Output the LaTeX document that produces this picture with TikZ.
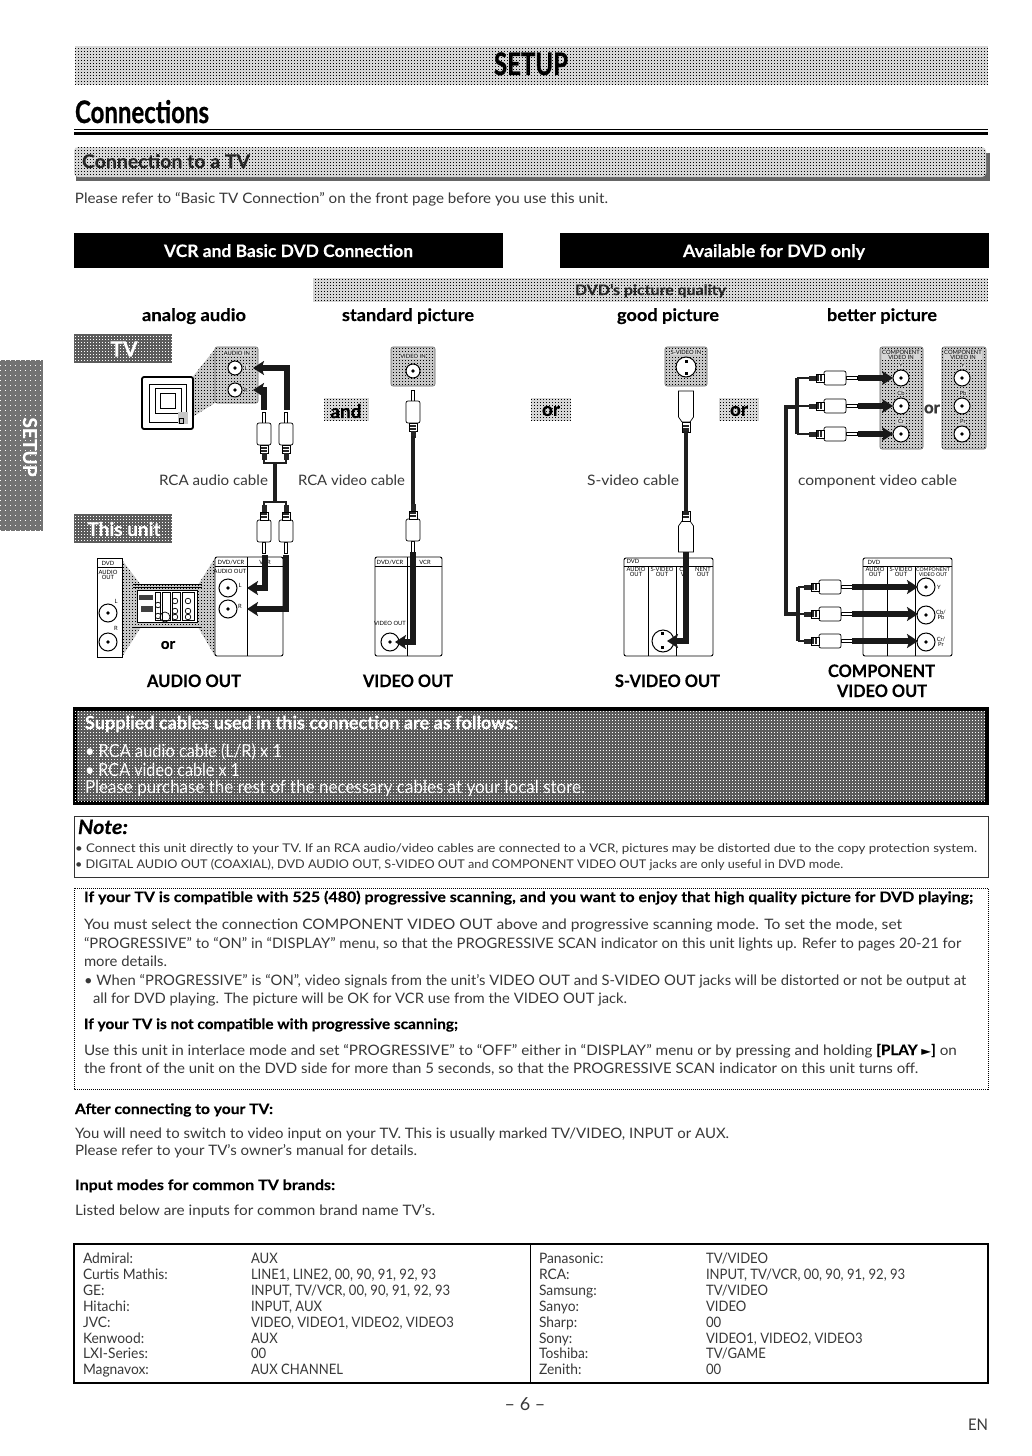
\documentclass[tikz,border=0pt]{standalone}
\usepackage{graphicx}
\usepackage{fontspec}
\setmainfont{Lato}[BoldFeatures={FakeBold=0.25},BoldItalicFeatures={FakeBold=0.25}]
\newfontfamily\hvyf{Lato}[BoldFeatures={FakeBold=0.9}]
\newfontfamily\djv{DejaVu Sans}
\usetikzlibrary{arrows.meta,patterns}
\pgfdeclarepatternformonly{dith}{\pgfqpoint{0pt}{0pt}}{\pgfqpoint{0.5pt}{0.5pt}}{\pgfqpoint{1.5pt}{1.5pt}}{%
  \pgfpathrectangle{\pgfqpoint{0pt}{0pt}}{\pgfqpoint{0.5pt}{0.5pt}}\pgfusepath{fill}}
\pgfdeclarepatternformonly{dithwide}{\pgfqpoint{0pt}{0pt}}{\pgfqpoint{0.5pt}{0.5pt}}{\pgfqpoint{2.5pt}{2.5pt}}{%
  \pgfpathrectangle{\pgfqpoint{0pt}{0pt}}{\pgfqpoint{0.5pt}{0.5pt}}\pgfusepath{fill}}
\definecolor{bandgray}{gray}{0.84}
\definecolor{darkband}{gray}{0.36}
\definecolor{sidegray}{gray}{0.45}
\definecolor{panelgray}{gray}{0.78}
\definecolor{inkc}{gray}{0.22}
\newcounter{tn}
\newcommand\bodyf{\fontsize{7.2}{8}\selectfont\color{inkc}}
\newcommand\smallf{\fontsize{6}{7}\selectfont\color{inkc}}
\newcommand\boldf{\fontsize{7.2}{8}\selectfont\bfseries}
\newcommand\headf{\fontsize{8.6}{9}\selectfont\bfseries}
\newcommand\tinyf{\fontsize{2.9}{3}\selectfont}
% fitted text: x, baseline, x end, font, text
\newcommand\Tf[5]{\stepcounter{tn}\pgfmathsetlengthmacro{\twd}{(#3-#1)*0.5}%
  \node[tx] (t\thetn) at (#1,#2) {\resizebox{\twd}{\height}{#4#5}};}
% scaled text: x, baseline, x scale, text
\newcommand\Tn[4]{\stepcounter{tn}\node[tx] (t\thetn) at (#1,#2) {\scalebox{#3}[1]{\bodyf #4}};}
% centred label
\newcommand\Tc[4]{\stepcounter{tn}\node[tc,font=#3] (t\thetn) at (#1,#2) {#4};}
% centred label on a grey panel, with a light halo
\newcommand\Tg[3]{\stepcounter{tn}\node[tc,font=\tinyf,fill=bandgray,inner sep=0.3pt] (t\thetn) at (#1,#2) {#3};}
% jack: name, x, y, radius
\newcommand\jack[4]{\node[jackn,minimum size=#4pt] (#1) at (#2,#3) {};\fill (#1.center) circle (0.9pt);}
\tikzset{
  x=0.5pt,y=-0.5pt,
  tx/.style={anchor=base west,inner sep=0pt,outer sep=0pt},
  tc/.style={anchor=center,inner sep=0pt,outer sep=0pt,align=center},
  jackn/.style={circle,draw=black,line width=0.5pt,fill=white,inner sep=0pt},
  cable/.style={draw=black!88,line width=2pt},
  thincable/.style={draw=black!88,line width=1.3pt},
  acable/.style={draw=black!90,line width=2.6pt,-{Stealth[length=5.5pt,width=7pt,inset=1.2pt]}},
  bandbox/.style={fill=bandgray,draw=none,postaction={pattern=dith,pattern color=black}},
  darkbox/.style={fill=darkband,draw=none,postaction={pattern=dith,pattern color=white}},
  sidebox/.style={fill=sidegray,draw=none,postaction={pattern=dithwide,pattern color=white}},
  panel/.style={draw=black,line width=0.45pt,fill=white},
  gpanel/.style={draw=black!60,line width=0.3pt,fill=panelgray,rounded corners=1pt,postaction={pattern=dith,pattern color=black}},
  wedge/.style={fill=panelgray,draw=none,postaction={pattern=dith,pattern color=black}},
  plugline/.style={draw=black,line width=0.35pt},
  rcaplug/.pic={
    \draw[plugline,fill=white] (-1.5,0) rectangle (1.5,11);
    \draw[plugline,fill=white,rounded corners=1pt] (-7,11) rectangle (7,33);
    \draw[plugline,fill=white] (-4,33) rectangle (4,41);
    \fill[black!85] (-3,35) rectangle (3,37);
    \fill[black!85] (-3,38) rectangle (3,40);
    \fill[black!85] (-2.5,41) rectangle (2.5,48);
  },
  svplug/.pic={
    \draw[plugline,fill=white] (-7.5,0) -- (7.5,0) -- (7.5,26) -- (4,31) -- (-4,31) -- (-7.5,26) -- cycle;
    \draw[plugline,fill=white] (-4,31) rectangle (4,41);
    \fill[black!85] (-3,34) rectangle (3,36);
    \fill[black!85] (-3,37) rectangle (3,41);
  },
}
\begin{document}
\begin{tikzpicture}
\useasboundingbox (0,0) rectangle (1032,1456);
\fill[white] (0,0) rectangle (1032,1456);

% ---------- headings
\path[bandbox] (75,46) rectangle (988,85);
\Tf{494}{75}{568}{\fontsize{15.5}{16}\selectfont\hvyf\bfseries}{SETUP}
\Tf{75}{123}{209}{\fontsize{15.5}{16}\selectfont\hvyf\bfseries}{Connections}
\fill[black] (74,128.5) rectangle (988,130);
\fill[black] (74,132) rectangle (988,135);

\fill[black!60] (76,172) rectangle (990,181);
\fill[black!60] (986,153) rectangle (990,181);
\path[bandbox,rounded corners=2pt] (74,147) rectangle (986,177);
\Tf{82}{168}{250}{\fontsize{9.4}{10}\selectfont\bfseries\color{black!85}}{Connection to a TV}
\Tf{75}{203}{608}{\bodyf}{Please refer to “Basic TV Connection” on the front page before you use this unit.}

\fill[black] (74,233) rectangle (503,268);
\fill[black] (560,233) rectangle (989,268);
\Tf{164}{257}{413}{\headf\color{white}}{VCR and Basic DVD Connection}
\Tf{683}{257}{865}{\headf\color{white}}{Available for DVD only}

\path[bandbox] (313,278) rectangle (988,302);
\Tf{575}{295}{726}{\boldf\color{black!85}}{DVD’s picture quality}
\Tf{142}{321}{246}{\headf}{analog audio}
\Tf{342}{321}{474}{\headf}{standard picture}
\Tf{617}{321}{719}{\headf}{good picture}
\Tf{827}{321}{937}{\headf}{better picture}

% ---------- side tab
\path[sidebox] (0,360) rectangle (43,531);
\node[tc,rotate=-90,text=white,font=\fontsize{9.6}{10}\selectfont\bfseries] (sidetab) at (30,447) {SETUP};

% ---------- label boxes
\path[darkbox] (74,334) rectangle (172,363);
\Tc{124}{349}{\fontsize{10.5}{11}\selectfont\bfseries\color{white}}{TV}
\path[darkbox] (74,514) rectangle (172,543);
\Tc{124}{529}{\fontsize{9.5}{10}\selectfont\bfseries\color{white}}{This unit}
\path[bandbox] (324,398) rectangle (369,421);
\Tc{346}{411}{\fontsize{9.5}{10}\selectfont\bfseries}{and}
\path[bandbox] (531,398) rectangle (571,421);
\Tc{551}{411}{\fontsize{9.5}{10}\selectfont\bfseries}{or}
\path[bandbox] (719,398) rectangle (759,421);
\Tc{739}{411}{\fontsize{9.5}{10}\selectfont\bfseries}{or}

% ---------- TV audio
\path[wedge] (215,349) -- (191,379) -- (191,425) -- (181,424) -- (215,403) -- cycle;
\draw[line width=0.9pt,draw=black,fill=white,rounded corners=1pt] (142,377) rectangle (193,429);
\draw[line width=0.35pt] (149,384) rectangle (186,422);
\draw[line width=0.35pt] (160,393) rectangle (175,408);
\draw[line width=0.35pt] (155,388) rectangle (181,413);
\fill[panelgray] (178,412) rectangle (188,424);
\draw[line width=0.3pt] (179,418) rectangle (183,423);
\path[gpanel] (215,347) rectangle (258,403);
\Tg{237}{353}{AUDIO IN}
\jack{tvL}{235}{368}{7}
\jack{tvR}{235}{390}{7}
\Tg{246}{368}{L}
\Tg{246}{390}{R}
\coordinate (tvLtip) at (253,390);
\coordinate (tvRtip) at (253,368);
\coordinate (aplugL) at (264,410);
\coordinate (aplugR) at (287,410);
\draw[acable] (aplugL) |- (tvLtip);
\draw[acable] (aplugR) |- (tvRtip);
\pic at (264,412) {rcaplug};
\pic at (286,412) {rcaplug};
\coordinate (ajT) at (275,463);
\coordinate (ajB) at (275,502);
\draw[cable] (ajT) -- (ajB);
\coordinate (ajTl) at (264,460);\coordinate (ajTr) at (286,460);
\draw[thincable] (ajTl) |- (ajT) -| (ajTr);
\coordinate (ajBl) at (264,505);\coordinate (ajBr) at (286,505);
\draw[thincable] (ajBl) |- (ajB) -| (ajBr);
\pic[rotate=180] at (264,553) {rcaplug};
\pic[rotate=180] at (286,553) {rcaplug};

\Tf{159}{485}{268}{\bodyf}{RCA audio cable}
\Tf{298}{485}{405}{\bodyf}{RCA video cable}

% ---------- unit audio panel
\path[wedge] (122,560) -- (141,585) -- (141,627) -- (122,657) -- cycle;
\path[wedge] (215,558) -- (198,585) -- (198,627) -- (215,656) -- cycle;
\draw[panel] (97,558) rectangle (122,657);
\draw[line width=0.4pt] (97,567) -- (122,567);
\Tc{108}{563}{\tinyf}{DVD}
\Tc{108}{575}{\tinyf}{AUDIO\\[-0.6pt]OUT}
\jack{dvdL}{108}{613}{9}
\jack{dvdR}{108}{642}{9}
\Tc{116}{601}{\tinyf}{L}
\Tc{116}{628}{\tinyf}{R}
\path[wedge] (133,584) rectangle (202,627);
\draw[line width=0.5pt] (133,584) -- (202,584);
\draw[line width=0.5pt] (133,587) -- (202,587);
\draw[line width=0.5pt] (133,627) -- (202,627);
\draw[line width=0.4pt,fill=white] (137,590) rectangle (197,622);
\draw[line width=0.35pt] (155,592) rectangle (160,620);
\draw[line width=0.35pt] (162,592) rectangle (170,620);
\draw[line width=0.35pt] (172,592) rectangle (180,620);
\draw[line width=0.35pt] (182,592) rectangle (194,620);
\fill[black!75] (139,595) rectangle (153,600);
\fill[black!75] (141,606) rectangle (153,612);
\draw[line width=0.35pt] (165,617) circle (2.5pt);
\foreach \jx/\jy in {158/605,158/616,175/601,175/611,188/601,188/611,175/617,188/617}
  \draw[line width=0.35pt] (\jx,\jy) circle (1.4pt);
\Tc{168}{645}{\fontsize{7.6}{8}\selectfont\bfseries}{or}

\draw[panel,rounded corners=1pt] (215,557) rectangle (283,656);
\draw[line width=0.45pt] (215,566) -- (283,566);
\draw[line width=0.45pt] (247,557) -- (247,656);
\Tc{231}{562}{\tinyf}{DVD/VCR}
\Tc{265}{562}{\tinyf}{VCR}
\Tc{230}{571}{\tinyf}{AUDIO OUT}
\jack{unitL}{228}{588}{9}
\jack{unitR}{228}{609}{9}
\Tc{240}{585}{\tinyf}{L}
\Tc{240}{606}{\tinyf}{R}
\coordinate (uLs) at (265,555);\coordinate (uRs) at (286,555);
\coordinate (uLt) at (247,588);\coordinate (uRt) at (247,609);
\draw[acable] (uLs) |- (uLt);
\draw[acable] (uRs) |- (uRt);

% ---------- video
\path[gpanel] (391,347) rectangle (435,386);
\Tg{413}{356}{VIDEO IN}
\jack{vin}{413}{371}{7}
\pic at (413,390) {rcaplug};
\coordinate (vT) at (413,436);\coordinate (vB) at (413,506);
\draw[cable] (vT) -- (vB);
\pic[rotate=180] at (413,552) {rcaplug};
\draw[panel,rounded corners=1pt] (375,557) rectangle (442,656);
\draw[line width=0.45pt] (375,566) -- (442,566);
\draw[line width=0.45pt] (407,557) -- (407,656);
\Tc{390}{562}{\tinyf}{DVD/VCR}
\Tc{425}{562}{\tinyf}{VCR}
\Tc{390}{623}{\tinyf}{VIDEO OUT}
\jack{vout}{390}{642}{9}
\coordinate (vS) at (413,552);\coordinate (vTip) at (395,642);
\draw[acable] (vS) |- (vTip);

% ---------- S-video
\path[gpanel] (665,347) rectangle (707,386);
\Tg{686}{352}{S-VIDEO IN}
\node[jackn,minimum size=10pt] (svin) at (686,367) {};
\fill (684.5,359.5) rectangle ++(3,3);\fill (684.5,372) rectangle ++(3,3);
\pic at (686,391) {svplug};
\coordinate (sT) at (686,431);\coordinate (sB) at (686,512);
\draw[cable] (sT) -- (sB);
\pic[rotate=180] at (686,552) {svplug};
\draw[panel,rounded corners=1pt] (624,558) rectangle (713,656);
\draw[line width=0.45pt] (624,566) -- (713,566);
\draw[line width=0.45pt] (648,566) -- (648,656);
\draw[line width=0.45pt] (676,566) -- (676,656);
\Tc{633}{561.5}{\tinyf}{DVD}
\Tc{636}{572}{\tinyf}{AUDIO\\[-0.6pt]OUT}
\Tc{662}{572}{\tinyf}{S-VIDEO\\[-0.6pt]OUT}
\Tc{695}{572}{\tinyf}{C\hspace{6pt}NENT\\[-0.6pt]V\hspace{6pt}OUT}
\node[jackn,minimum size=11pt] (svout) at (663,641) {};
\fill (661,632) rectangle ++(3,3);\fill (661,646) rectangle ++(3,3);
\coordinate (sS) at (686,552);\coordinate (sTip) at (667,641);
\draw[acable] (sS) |- (sTip);
\Tf{587}{485}{679}{\bodyf}{S-video cable}

% ---------- component
\path[gpanel] (880,347) rectangle (923,449);
\path[gpanel] (942,347) rectangle (986,449);
\Tg{901}{355}{COMPONENT\\[-0.6pt]VIDEO IN}
\Tg{963}{355}{COMPONENT\\[-0.6pt]VIDEO IN}
\Tg{901}{365}{Y}\Tg{963}{365}{Y}
\Tg{901}{393}{Cb}\Tg{963}{393}{Pb}
\Tg{901}{421}{Cr}\Tg{963}{421}{Pr}
\jack{c1}{901}{378}{8}\jack{c2}{901}{406}{8}\jack{c3}{901}{434}{8}
\jack{d1}{962}{378}{8}\jack{d2}{962}{406}{8}\jack{d3}{962}{434}{8}
\Tc{932}{409}{\fontsize{8.4}{9}\selectfont\bfseries\color{inkc}}{or}
\foreach \py/\pn in {378/a,406/b,434/c}{
  \coordinate (tbr\pn) at (797,\py);
  \draw[thincable] (tbr\pn) -- (812,\py);
  \pic[rotate=-90] at (857,\py) {rcaplug};
  \coordinate (tar\pn) at (858,\py);
  \coordinate (tat\pn) at (893,\py);
  \draw[acable] (tar\pn) -- (tat\pn);
}
\draw[cable] (tbra) -- (tbrc);
\Tf{798}{485}{957}{\bodyf}{component video cable}

\draw[panel,rounded corners=1pt] (863,558) rectangle (952,656);
\draw[line width=0.45pt] (863,566) -- (952,566);
\draw[line width=0.45pt] (887,566) -- (887,656);
\draw[line width=0.45pt] (915,566) -- (915,656);
\Tc{874}{562}{\tinyf}{DVD}
\Tc{875}{572}{\tinyf}{AUDIO\\[-0.6pt]OUT}
\Tc{901}{572}{\tinyf}{S-VIDEO\\[-0.6pt]OUT}
\Tc{933}{572}{\fontsize{2.6}{3}\selectfont}{COMPONENT\\[-0.6pt]VIDEO OUT}
\jack{e1}{926}{587}{9}\jack{e2}{926}{615}{9}\jack{e3}{926}{642}{9}
\Tc{939}{587}{\tinyf}{Y}
\Tc{941}{615}{\tinyf}{Cb/\\[-0.6pt]Pb}
\Tc{941}{642}{\tinyf}{Cr/\\[-0.6pt]Pr}
\foreach \py/\pn in {587/a,614/b,641/c}{
  \coordinate (bbr\pn) at (798,\py);
  \draw[thincable] (bbr\pn) -- (808,\py);
  \pic[rotate=-90] at (852,\py) {rcaplug};
  \coordinate (bar\pn) at (852,\py);
  \coordinate (bat\pn) at (918,\py);
  \draw[acable] (bar\pn) -- (bat\pn);
}
\draw[cable] (bbra) -- (bbrc);
\coordinate (tfeed) at (797,407);
\coordinate (bfeed) at (798,614);
\draw[cable] (tfeed) -- (786,407) -- (786,614) -- (bfeed);

\Tf{147}{687}{241}{\headf}{AUDIO OUT}
\Tf{363}{687}{453}{\headf}{VIDEO OUT}
\Tf{615}{687}{720}{\headf}{S-VIDEO OUT}
\Tf{828}{677}{935}{\headf}{COMPONENT}
\Tf{837}{697}{927}{\headf}{VIDEO OUT}

% ---------- supplied box
\path[line width=2pt,draw=black,fill=darkband,postaction={pattern=dith,pattern color=white}] (75,709) rectangle (987,803);
\Tf{85}{729}{518}{\fontsize{9}{10}\selectfont\bfseries\color{white}}{Supplied cables used in this connection are as follows:}
\Tf{85}{757}{282}{\fontsize{9}{10}\selectfont\color{white}}{• RCA audio cable (L/R) x 1}
\Tf{85}{776}{240}{\fontsize{9}{10}\selectfont\color{white}}{• RCA video cable x 1}
\Tf{85}{793}{585}{\fontsize{9}{10}\selectfont\color{white}}{Please purchase the rest of the necessary cables at your local store.}

% ---------- note
\draw[line width=0.5pt,draw=black!80] (74,816) rectangle (988,877);
\Tf{78}{834}{128}{\fontsize{10}{11}\selectfont\bfseries\itshape}{Note:}
\Tf{75}{852}{977}{\smallf}{• Connect this unit directly to your TV. If an RCA audio/video cables are connected to a VCR, pictures may be distorted due to the copy protection system.}
\Tf{75}{868}{843}{\smallf}{• DIGITAL AUDIO OUT (COAXIAL), DVD AUDIO OUT, S-VIDEO OUT and COMPONENT VIDEO OUT jacks are only useful in DVD mode.}

% ---------- progressive box
\draw[line width=0.5pt,draw=black,dash pattern=on 0.5pt off 0.5pt] (74,888) rectangle (988,1089);
\Tf{84}{902}{973}{\boldf}{If your TV is compatible with 525 (480) progressive scanning, and you want to enjoy that high quality picture for DVD playing;}
\Tf{84}{929}{902}{\bodyf}{You must select the connection COMPONENT VIDEO OUT above and progressive scanning mode. To set the mode, set}
\Tf{84}{948}{961}{\bodyf}{“PROGRESSIVE” to “ON” in “DISPLAY” menu, so that the PROGRESSIVE SCAN indicator on this unit lights up. Refer to pages 20-21 for}
\Tf{84}{966}{167}{\bodyf}{more details.}
\Tf{84}{985}{966}{\bodyf}{• When “PROGRESSIVE” is “ON”, video signals from the unit’s VIDEO OUT and S-VIDEO OUT jacks will be distorted or not be output at}
\Tf{93}{1003}{627}{\bodyf}{all for DVD playing. The picture will be OK for VCR use from the VIDEO OUT jack.}
\Tf{84}{1029}{458}{\boldf}{If your TV is not compatible with progressive scanning;}
\Tf{84}{1055}{957}{\bodyf}{Use this unit in interlace mode and set “PROGRESSIVE” to “OFF” either in “DISPLAY” menu or by pressing and holding {\color{black}\bfseries [PLAY {\djv\fontsize{6}{7}\selectfont ►}]} on}
\Tf{84}{1073}{918}{\bodyf}{the front of the unit on the DVD side for more than 5 seconds, so that the PROGRESSIVE SCAN indicator on this unit turns off.}

\Tf{75}{1114}{273}{\boldf}{After connecting to your TV:}
\Tf{75}{1138}{729}{\bodyf}{You will need to switch to video input on your TV. This is usually marked TV/VIDEO, INPUT or AUX.}
\Tf{75}{1155}{417}{\bodyf}{Please refer to your TV’s owner’s manual for details.}
\Tf{75}{1190}{335}{\boldf}{Input modes for common TV brands:}
\Tf{75}{1215}{435}{\bodyf}{Listed below are inputs for common brand name TV’s.}

% ---------- table
\draw[line width=0.6pt] (74,1244) rectangle (988,1383);
\coordinate (tabT) at (530,1244);\coordinate (tabB) at (530,1383);
\draw[line width=0.5pt] (tabT) -- (tabB);
\foreach \yy/\aa/\ac/\ba/\bc in {
  1263/Admiral:/AUX/Panasonic:/TV\slash VIDEO,
  1279/Curtis Mathis:/{LINE1, LINE2, 00, 90, 91, 92, 93}/RCA:/{INPUT, TV\slash VCR, 00, 90, 91, 92, 93},
  1295/GE:/{INPUT, TV\slash VCR, 00, 90, 91, 92, 93}/Samsung:/TV\slash VIDEO,
  1311/Hitachi:/{INPUT, AUX}/Sanyo:/VIDEO,
  1327/JVC:/{VIDEO, VIDEO1, VIDEO2, VIDEO3}/Sharp:/00,
  1343/Kenwood:/AUX/Sony:/{VIDEO1, VIDEO2, VIDEO3},
  1358/LXI-Series:/00/Toshiba:/TV\slash GAME,
  1374/Magnavox:/AUX CHANNEL/Zenith:/00}{
  \Tn{83}{\yy}{0.96}{\aa}
  \Tn{251}{\yy}{0.91}{\ac}
  \Tn{539}{\yy}{0.96}{\ba}
  \Tn{706}{\yy}{0.91}{\bc}
}
\Tc{525}{1404}{\fontsize{9}{10}\selectfont\color{inkc}}{– 6 –}
\Tf{968}{1430}{988}{\fontsize{8}{9}\selectfont\color{inkc}}{EN}
\end{tikzpicture}
\end{document}
